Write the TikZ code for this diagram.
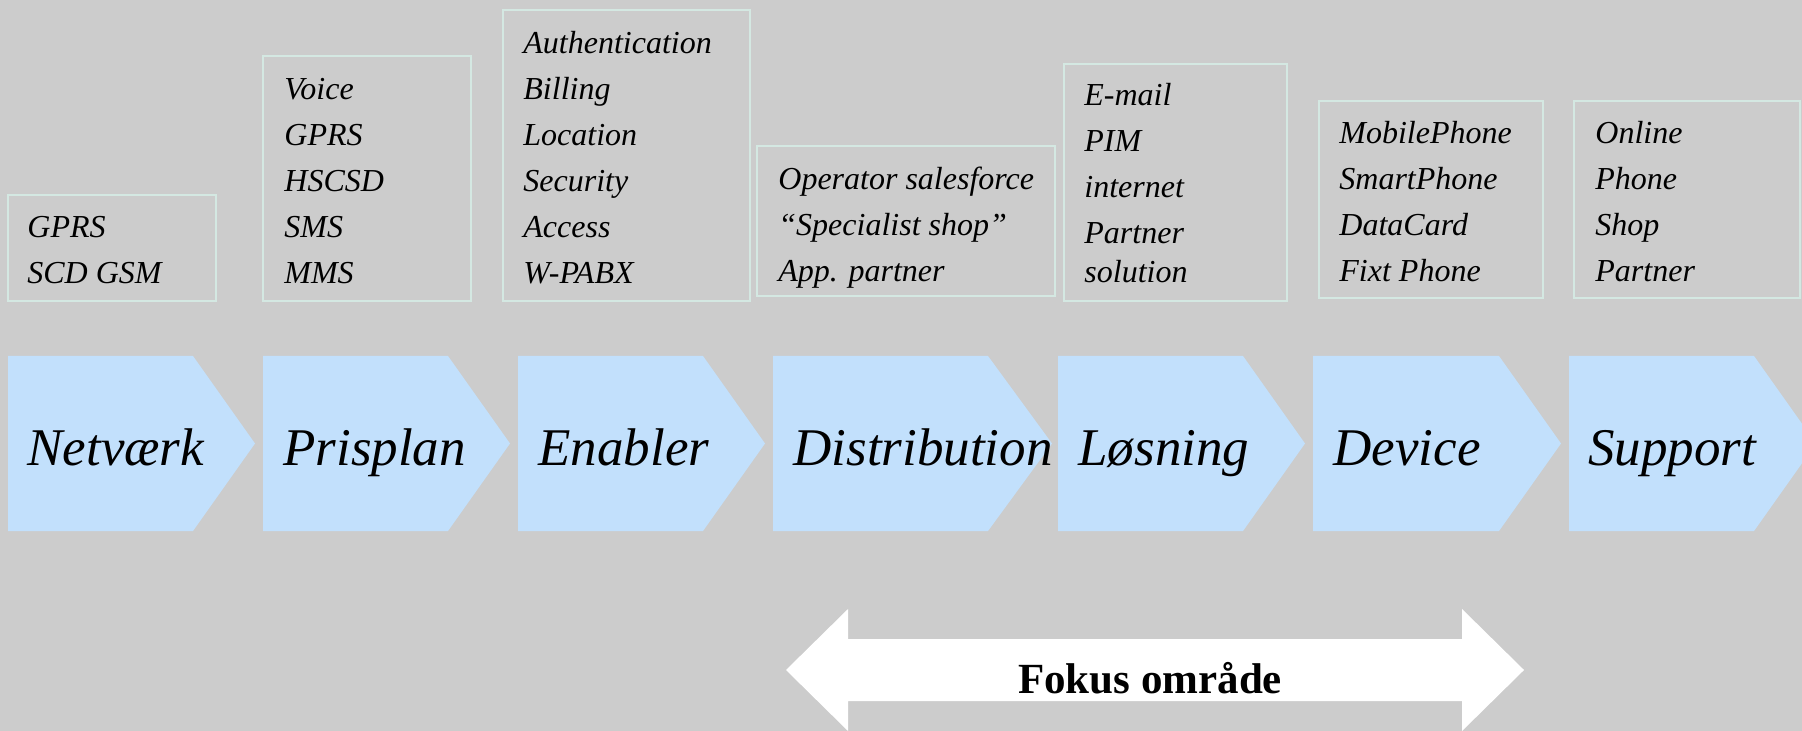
\documentclass[tikz,border=0pt]{standalone}
\usepackage{fontspec}
\setmainfont{Liberation Serif}
\usepackage{tikz}
\usetikzlibrary{positioning}
\definecolor{bggray}{HTML}{CCCCCC}
\definecolor{boxline}{HTML}{D4E8E2}
\definecolor{chevblue}{HTML}{C2E0FC}

\begin{document}
\begin{tikzpicture}[x=0.5pt,y=-0.5pt,
	infobox/.style={draw=boxline,line width=1.2pt},
	item/.style={anchor=base west,inner sep=0pt,font=\fontsize{16}{19}\selectfont\itshape},
	chev/.style={fill=chevblue},
	stage/.style={anchor=base west,inner sep=0pt,font=\fontsize{26.5}{30}\selectfont\itshape}]

	% Background
	\fill[bggray] (0,0) rectangle (1802,731);
	\useasboundingbox (0,0) rectangle (1802,731);

	% The boxes
	\draw[infobox] (8,195) rectangle (216,301);
	\draw[infobox] (263,56) rectangle (471,301);
	\draw[infobox] (503,10) rectangle (750,301);
	\draw[infobox] (757,146) rectangle (1055,296);
	\draw[infobox] (1064,64) rectangle (1287,301);
	\draw[infobox] (1319,101) rectangle (1543,298);
	\draw[infobox] (1574,101) rectangle (1800,298);

	% Box texts
	\foreach \t [count=\i from 0] in {GPRS,SCD GSM}
		\node[item] (net-\i) at (27,238+46*\i) {\t};
	\foreach \t [count=\i from 0] in {Voice,GPRS,HSCSD,SMS,MMS}
		\node[item] (pris-\i) at (284,100+46*\i) {\t};
	\foreach \t [count=\i from 0] in {Authentication,Billing,Location,Security,Access,W-PABX}
		\node[item] (enab-\i) at (523,54+46*\i) {\t};
	\foreach \t [count=\i from 0] in {Operator salesforce,``Specialist shop'',App. partner}
		\node[item] (dist-\i) at (778,190+46*\i) {\t};
	\foreach \t [count=\i from 0] in {E-mail,PIM,internet,Partner}
		\node[item] (los-\i) at (1084,106+46*\i) {\t};
	\node[item] (los-4) at (1084,283) {solution};
	\foreach \t [count=\i from 0] in {MobilePhone,SmartPhone,DataCard,Fixt Phone}
		\node[item] (dev-\i) at (1339,144+46*\i) {\t};
	\foreach \t [count=\i from 0] in {Online,Phone,Shop,Partner}
		\node[item] (sup-\i) at (1595,144+46*\i) {\t};

	% The chain
	\foreach \l/\s/\p in {8/193/255,263/448/510,518/703/765,773/988/1052,1058/1243/1305,1313/1499/1561,1569/1754/1816}
		\fill[chev] (\l,356) -- (\s,356) -- (\p,443.5) -- (\s,531) -- (\l,531) -- cycle;

	\node[stage] (netvaerk) at (27,466) {Netværk};
	\node[stage] (prisplan) at (283,466) {Prisplan};
	\node[stage] (enabler) at (538,466) {Enabler};
	\node[stage] (distribution) at (793,466) {Distribution};
	\node[stage] (losning) at (1078,466) {Løsning};
	\node[stage] (device) at (1333,466) {Device};
	\node[stage] (support) at (1588,466) {Support};

	% Focus arrow
	\fill[white] (786,670) -- (848,609) -- (848,639) -- (1462,639) -- (1462,609) -- (1524,670)
		-- (1462,731) -- (1462,701) -- (848,701) -- (848,731) -- cycle;
	\node[anchor=base,inner sep=0pt,font=\fontsize{21.5}{25}\selectfont\bfseries] (fokus) at (1150,693) {Fokus område};

\end{tikzpicture}
\end{document}
